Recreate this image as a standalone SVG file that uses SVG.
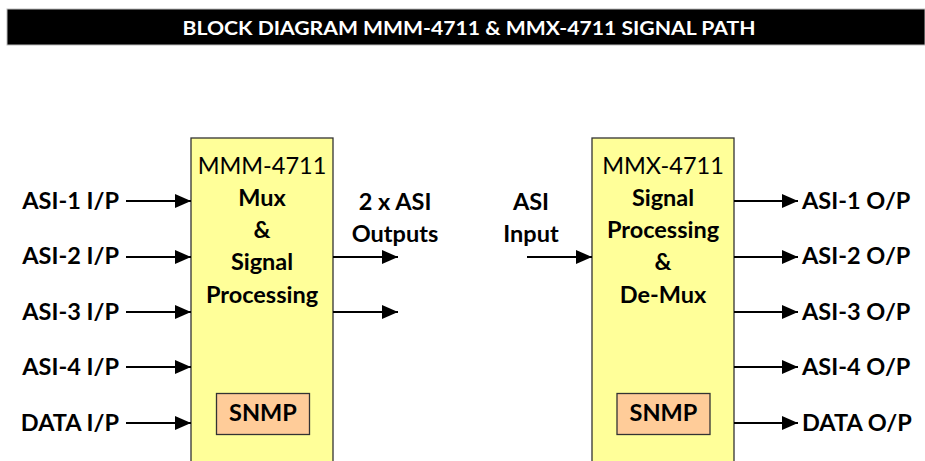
<svg xmlns="http://www.w3.org/2000/svg" width="925" height="461" viewBox="0 0 925 461">
<style>
.t{font-family:Lato,"Liberation Sans",sans-serif;fill:#000}
.b{font-weight:bold;font-size:23.5px}
.n{font-weight:normal;font-size:23.5px}
.box{fill:#FFFF99;stroke:#333;stroke-width:1.3}
.snmp{fill:#FFCC99;stroke:#333;stroke-width:1.3}
.c line{stroke:#000;stroke-width:2}
</style>
<defs>
<marker id="ah" viewBox="0 0 16 14" refX="16" refY="7" markerWidth="16" markerHeight="14" markerUnits="userSpaceOnUse" orient="auto">
<path d="M0,0 L16,7 L0,14 Z" fill="#000"/>
</marker>
</defs>
<rect width="925" height="461" fill="#fff"/>
<g id="title">
<rect x="7" y="9" width="918" height="36" fill="#000" stroke="#bbb" stroke-width="1"/>
<text x="469" y="35" text-anchor="middle" font-family="Lato,'Liberation Sans',sans-serif" font-weight="bold" font-size="19" fill="#fff" textLength="573" lengthAdjust="spacingAndGlyphs">BLOCK DIAGRAM MMM-4711 &amp; MMX-4711 SIGNAL PATH</text>
</g>
<g id="mmm">
<rect class="box" x="191" y="138" width="142" height="330"/>
<text class="t n" x="262" y="174" text-anchor="middle">MMM-4711</text>
<text class="t b" x="262" y="206" text-anchor="middle">Mux</text>
<text class="t b" x="262" y="238" text-anchor="middle">&amp;</text>
<text class="t b" x="262" y="270" text-anchor="middle">Signal</text>
<text class="t b" x="262" y="303" text-anchor="middle">Processing</text>
<rect class="snmp" x="216.5" y="393.5" width="93" height="41"/>
<text class="t b" x="263" y="421" text-anchor="middle">SNMP</text>
</g>
<g id="mmx">
<rect class="box" x="592" y="138" width="142" height="330"/>
<text class="t n" x="663" y="174" text-anchor="middle">MMX-4711</text>
<text class="t b" x="663" y="206" text-anchor="middle">Signal</text>
<text class="t b" x="663" y="238" text-anchor="middle">Processing</text>
<text class="t b" x="663" y="270" text-anchor="middle">&amp;</text>
<text class="t b" x="663" y="303" text-anchor="middle">De-Mux</text>
<rect class="snmp" x="617" y="393.5" width="93" height="41"/>
<text class="t b" x="663.5" y="421" text-anchor="middle">SNMP</text>
</g>
<g id="inputs">
<text class="t b" x="119" y="209" text-anchor="end">ASI-1 I/P</text>
<text class="t b" x="119" y="264" text-anchor="end">ASI-2 I/P</text>
<text class="t b" x="119" y="320" text-anchor="end">ASI-3 I/P</text>
<text class="t b" x="119" y="375" text-anchor="end">ASI-4 I/P</text>
<text class="t b" x="119" y="431" text-anchor="end">DATA I/P</text>
</g>
<g id="mid-labels">
<text class="t b" x="395" y="210" text-anchor="middle">2 x ASI</text>
<text class="t b" x="395" y="242" text-anchor="middle">Outputs</text>
<text class="t b" x="531" y="210" text-anchor="middle">ASI</text>
<text class="t b" x="531" y="242" text-anchor="middle">Input</text>
</g>
<g id="outputs">
<text class="t b" x="802" y="209">ASI-1 O/P</text>
<text class="t b" x="802" y="264">ASI-2 O/P</text>
<text class="t b" x="802" y="320">ASI-3 O/P</text>
<text class="t b" x="802" y="375">ASI-4 O/P</text>
<text class="t b" x="802" y="431">DATA O/P</text>
</g>
<g id="connectors" class="c">
<line x1="126" y1="201" x2="191" y2="201" marker-end="url(#ah)"/>
<line x1="126" y1="257" x2="191" y2="257" marker-end="url(#ah)"/>
<line x1="126" y1="312" x2="191" y2="312" marker-end="url(#ah)"/>
<line x1="126" y1="367" x2="191" y2="367" marker-end="url(#ah)"/>
<line x1="126" y1="423" x2="191" y2="423" marker-end="url(#ah)"/>
<line x1="333" y1="257" x2="398" y2="257" marker-end="url(#ah)"/>
<line x1="333" y1="312" x2="398" y2="312" marker-end="url(#ah)"/>
<line x1="527" y1="257" x2="592" y2="257" marker-end="url(#ah)"/>
<line x1="734" y1="201" x2="798" y2="201" marker-end="url(#ah)"/>
<line x1="734" y1="257" x2="798" y2="257" marker-end="url(#ah)"/>
<line x1="734" y1="312" x2="798" y2="312" marker-end="url(#ah)"/>
<line x1="734" y1="367" x2="798" y2="367" marker-end="url(#ah)"/>
<line x1="734" y1="423" x2="798" y2="423" marker-end="url(#ah)"/>
</g>
</svg>
